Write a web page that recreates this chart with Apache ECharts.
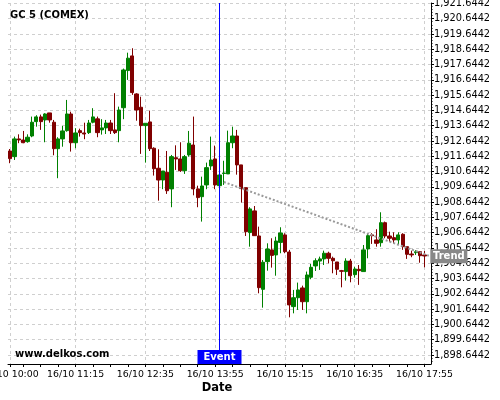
<!DOCTYPE html>
<html>
<head>
<meta charset="utf-8">
<script src="https://cdn.jsdelivr.net/npm/echarts@6/dist/echarts.min.js"></script>
<style>html,body{margin:0;padding:0;background:#fff}#c{width:500px;height:400px}</style>
</head>
<body>
<div id="c"></div>
<script>
const dateLabel = "16/10";
const times = [
"10:00","10:05","10:10","10:15","10:20","10:25","10:30","10:35","10:40","10:45","10:50","10:55",
"11:00","11:05","11:10","11:15","11:20","11:25","11:30","11:35","11:40","11:45","11:50","11:55",
"12:00","12:05","12:10","12:15","12:20","12:25","12:30","12:35","12:40","12:45","12:50","12:55",
"13:00","13:05","13:10","13:15","13:20","13:25","13:30","13:35","13:40","13:45","13:50","13:55",
"14:00","14:05","14:10","14:15","14:20","14:25","14:30","14:35","14:40","14:45","14:50","14:55",
"15:00","15:05","15:10","15:15","15:20","15:25","15:30","15:35","15:40","15:45","15:50","15:55",
"16:00","16:05","16:10","16:15","16:20","16:25","16:30","16:35","16:40","16:45","16:50","16:55",
"17:00","17:05","17:10","17:15","17:20","17:25","17:30","17:35","17:40","17:45","17:50","17:55",
"18:00"];
const openV = [1911.99,1911.62,1912.78,1912.71,1912.60,1912.97,1913.91,1914.22,1914.02,1914.48,
1913.87,1912.14,1912.78,1913.32,1914.41,1912.53,1913.32,1913.17,1913.19,1913.87,
1914.09,1913.37,1913.50,1913.82,1913.37,1913.32,1914.82,1917.25,1918.21,1915.72,
1914.85,1913.65,1913.89,1912.17,1910.86,1910.09,1910.60,1909.51,1911.55,1911.47,
1910.70,1911.73,1912.38,1909.51,1909.00,1909.77,1911.01,1911.47,1909.72,1910.52,
1910.49,1912.53,1912.97,1911.08,1909.59,1906.65,1908.07,1906.43,1902.94,1904.75,
1905.52,1905.19,1906.01,1906.50,1905.38,1901.81,1902.39,1903.03,1902.13,1903.73,
1904.47,1904.79,1904.93,1905.30,1904.97,1904.73,1904.16,1904.10,1904.79,1903.90,
1904.25,1904.10,1905.58,1906.50,1906.17,1905.99,1907.30,1906.43,1906.32,1906.17,
1906.54,1905.73,1905.25,1905.34,1905.40,1905.19];
const closeV = [1911.49,1912.78,1912.71,1912.53,1912.89,1913.87,1914.22,1913.91,1914.41,1914.02,
1912.14,1912.78,1913.30,1914.41,1912.53,1913.17,1913.19,1913.10,1913.82,1914.22,
1913.19,1913.50,1913.82,1913.32,1913.19,1914.67,1917.29,1918.06,1915.81,1914.67,
1913.65,1913.80,1912.14,1910.83,1910.09,1910.68,1909.39,1911.62,1911.47,1910.70,
1911.62,1912.50,1909.51,1908.94,1909.70,1910.90,1911.40,1909.77,1910.42,1910.55,
1912.53,1912.97,1911.08,1909.53,1906.71,1908.20,1906.45,1903.05,1904.71,1905.58,
1905.16,1906.10,1906.63,1905.40,1901.92,1902.39,1902.90,1902.13,1903.88,1904.38,
1904.81,1904.93,1905.30,1904.97,1904.81,1904.25,1904.12,1904.79,1903.83,1904.27,
1904.16,1905.52,1906.45,1906.45,1905.95,1907.30,1906.43,1906.28,1906.17,1906.50,
1905.73,1905.23,1905.19,1905.40,1905.14,1905.12];
const lowV = [1911.19,1911.40,1912.50,1912.50,1912.53,1912.89,1913.58,1913.37,1912.56,1913.84,
1911.71,1910.21,1912.27,1913.25,1911.95,1912.17,1912.93,1912.76,1913.10,1913.80,
1912.89,1913.06,1913.10,1913.10,1913.10,1912.56,1914.07,1916.64,1915.66,1913.97,
1911.80,1911.23,1911.99,1910.38,1908.74,1909.49,1909.18,1908.31,1910.75,1910.62,
1910.49,1911.62,1909.09,1908.31,1907.37,1909.49,1910.75,1909.49,1909.72,1909.77,
1910.49,1912.17,1910.44,1908.61,1906.43,1905.73,1906.43,1902.68,1901.74,1904.16,
1904.36,1903.83,1905.30,1905.30,1901.11,1901.37,1901.59,1901.59,1901.37,1903.60,
1904.14,1904.21,1904.53,1904.64,1903.99,1903.88,1903.07,1903.51,1903.40,1903.70,
1903.23,1904.10,1904.97,1905.91,1905.73,1905.73,1906.28,1906.06,1905.95,1905.84,
1905.52,1904.93,1905.04,1905.19,1904.68,1904.38];
const highV = [1912.12,1912.93,1913.08,1913.30,1913.08,1914.24,1914.33,1914.37,1914.46,1914.48,
1914.02,1912.89,1913.63,1915.33,1914.56,1913.48,1913.45,1913.84,1914.02,1914.79,
1914.24,1914.07,1914.02,1914.02,1915.77,1914.89,1917.38,1918.42,1918.71,1915.77,
1915.54,1913.80,1914.63,1912.23,1912.10,1910.68,1911.99,1911.73,1912.36,1912.56,
1911.73,1913.30,1914.24,1909.72,1910.31,1911.23,1912.93,1912.34,1911.40,1911.35,
1913.32,1913.58,1913.37,1911.08,1909.59,1908.31,1908.39,1907.04,1904.86,1905.95,
1906.28,1906.38,1907.00,1906.61,1905.52,1902.90,1903.38,1903.18,1904.10,1904.60,
1904.97,1905.08,1905.47,1905.40,1905.08,1904.73,1904.21,1904.97,1904.93,1904.42,
1904.53,1905.84,1906.61,1906.61,1906.87,1907.98,1907.37,1906.71,1906.67,1906.67,
1906.61,1905.73,1905.47,1905.50,1905.40,1905.45];
const yTickValues = [1898.6442,1899.6442,1900.6442,1901.6442,1902.6442,1903.6442,1904.6442,1905.6442,
1906.6442,1907.6442,1908.6442,1909.6442,1910.6442,1911.6442,1912.6442,1913.6442,1914.6442,1915.6442,
1916.6442,1917.6442,1918.6442,1919.6442,1920.6442,1921.6442];
const xLabelTimes = ["10:00","11:15","12:35","13:55","15:15","16:35","17:55"];
const eventTime = "14:00";
const eventText = "Event";
const trendStart = {time: "14:05", value: 1909.96};
const trendEnd = {time: "18:00", value: 1905.14};
const trendText = "Trend";
const titleText = "GC 5 (COMEX)";
const siteText = "www.delkos.com";
const xAxisTitle = "Date";

const Y_MIN = 1898.055, Y_MAX = 1921.67;
const candles = openV.map((o, i) => [o, closeV[i], lowV[i], highV[i]]);
const labelIdx = xLabelTimes.map(t => times.indexOf(t));
const tickIdx = [];
for (let i = 0; i < times.length - 1; i++) if (i === 0 || i % 4 === 3) tickIdx.push(i);
const minorY = [];
yTickValues.forEach(v => { for (let j = -4; j <= 4; j++) { const m = +(v + j * 0.2).toFixed(4); if (j !== 0 && m > Y_MIN && m < Y_MAX && minorY.indexOf(m) < 0) minorY.push(m); } });
const fmtY = v => { const s = v.toFixed(4); const p = s.split('.'); return p[0].replace(/\B(?=(\d{3})+(?!\d))/g, ',') + '.' + p[1]; };
const FONT = '"DejaVu Sans", sans-serif';
const grid = {left: 8, right: 69, top: 3, bottom: 36, containLabel: false, outerBoundsMode: 'none'};
const splitStyle = {color: '#cfcfcf', type: [3, 3], width: 1};
const xRange = {min: -0.5, max: times.length - 0.5};

const chart = echarts.init(document.getElementById('c'), null, {renderer: 'canvas'});
chart.setOption({
  animation: false,
  backgroundColor: '#fff',
  grid: grid,
  xAxis: [
    {type: 'category', data: times, boundaryGap: true, position: 'bottom',
     axisLine: {show: true, onZero: false, lineStyle: {color: '#000', width: 1}},
     axisTick: {show: false}, axisLabel: {show: false}, splitLine: {show: false}},
    Object.assign({type: 'value', position: 'bottom'}, xRange, {
     axisLine: {show: false, onZero: false},
     axisTick: {show: false, customValues: labelIdx},
     axisLabel: {show: true, customValues: labelIdx, margin: 6, fontSize: 9.4, fontFamily: FONT, color: '#000',
       formatter: v => dateLabel + ' ' + times[Math.round(v)]},
     splitLine: {show: true, lineStyle: splitStyle}}),
    Object.assign({type: 'value', position: 'bottom'}, xRange, {
     axisLine: {show: false, onZero: false},
     axisTick: {show: true, customValues: tickIdx, length: 3, lineStyle: {color: '#000'}},
     axisLabel: {show: false}, splitLine: {show: false}})
  ],
  yAxis: [
    {type: 'value', position: 'right', min: Y_MIN, max: Y_MAX, scale: true,
     axisLine: {show: true, onZero: false, lineStyle: {color: '#000', width: 1}},
     axisTick: {show: true, customValues: yTickValues, length: 3, lineStyle: {color: '#000'}},
     axisLabel: {show: true, customValues: yTickValues, margin: 3, fontSize: 9.8, fontFamily: FONT, color: '#000', formatter: fmtY},
     splitLine: {show: true, lineStyle: splitStyle}},
    {type: 'value', position: 'right', min: Y_MIN, max: Y_MAX, scale: true,
     axisLine: {show: false, onZero: false},
     axisTick: {show: true, customValues: minorY, length: 1.5, lineStyle: {color: '#000'}},
     axisLabel: {show: false}, splitLine: {show: false}}
  ],
  series: [
    {type: 'candlestick', xAxisIndex: 0, yAxisIndex: 0, data: candles, barWidth: 3.8, clip: false,
     itemStyle: {color: '#008000', color0: '#800000', borderColor: '#008000', borderColor0: '#800000', borderWidth: 1}},
    {type: 'line', xAxisIndex: 0, yAxisIndex: 0, data: [], clip: false, silent: true, z: 5,
     markLine: {silent: true, symbol: ['none', 'none'], animation: false, label: {show: false},
       data: [
         {xAxis: eventTime, lineStyle: {color: '#0000ff', width: 1, type: 'solid'}},
         [{coord: [trendStart.time, trendStart.value], lineStyle: {color: '#999', width: 2, type: [2, 2]}},
          {coord: [trendEnd.time, trendEnd.value]}]
       ]},
     markPoint: {silent: true, animation: false,
       data: [
         {coord: [eventTime, Y_MIN], symbol: 'rect', symbolSize: [44, 14], symbolOffset: [0, -7],
          itemStyle: {color: '#0000ff'},
          label: {show: true, position: 'inside', formatter: eventText, color: '#fff', fontWeight: 'bold', fontSize: 10, fontFamily: FONT}},
         {coord: [trendEnd.time, trendEnd.value], symbol: 'rect', symbolSize: [37, 14], symbolOffset: [20, 0.5],
          itemStyle: {color: '#888'},
          label: {show: true, position: 'inside', formatter: trendText, color: '#fff', fontWeight: 'bold', fontSize: 10, fontFamily: FONT}}
       ]}}
  ],
  graphic: [
    {type: 'text', x: 10, y: 15.5, z: 10, style: {text: titleText, font: 'bold 10px ' + FONT, fill: '#000', align: 'left', verticalAlign: 'middle'}},
    {type: 'text', x: 15, y: 354.5, z: 10, style: {text: siteText, font: 'bold 10px ' + FONT, fill: '#000', align: 'left', verticalAlign: 'middle'}},
    {type: 'text', x: 217, y: 388.5, z: 10, style: {text: xAxisTitle, font: 'bold 11.5px ' + FONT, fill: '#000', align: 'center', verticalAlign: 'middle'}}
  ]
});
</script>
</body>
</html>
